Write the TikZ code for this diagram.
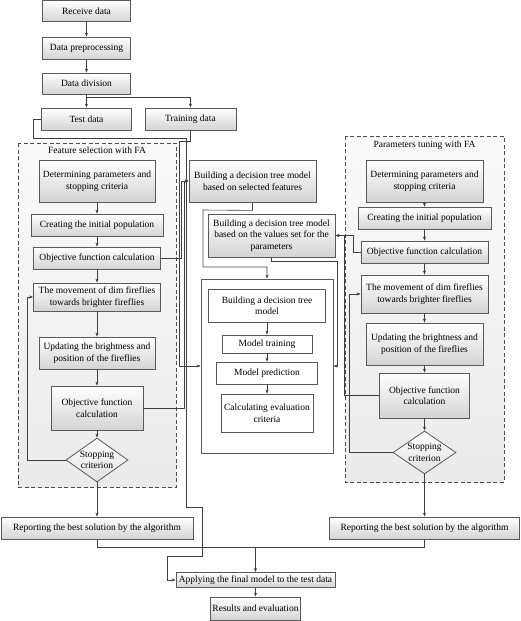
\documentclass[tikz,border=0pt]{standalone}
\usepackage{fontspec}
\setmainfont{Liberation Serif}
\usetikzlibrary{shapes.geometric,arrows.meta}

\begin{document}
\begin{tikzpicture}[x=1pt,y=-1pt,
	box/.style={draw=black!65,line width=0.8pt,top color=white,bottom color=black!17,align=center,inner sep=1pt,font=\fontsize{9.5}{11.5}\selectfont},
	plainbox/.style={draw=black!65,line width=0.8pt,fill=white,align=center,inner sep=1pt,font=\fontsize{9.5}{11.5}\selectfont},
	stopbox/.style={diamond,aspect=1.4,inner sep=0pt,draw=black!65,line width=0.8pt,top color=white,bottom color=black!12,align=center,font=\fontsize{9.5}{11.5}\selectfont},
	groupbox/.style={draw=black!70,line width=0.8pt,dash pattern=on 4pt off 2.5pt,top color=black!2,bottom color=black!8},
	grouptitle/.style={inner sep=1pt,font=\fontsize{9.5}{11.5}\selectfont},
	link/.style={draw=black!75,line width=0.6pt,-{Stealth[length=4pt,width=3pt]}},
	wire/.style={draw=black!75,line width=0.6pt}]
	\useasboundingbox (0,0) rectangle (520,621);
	% dashed groups
	\draw[groupbox] (18,143) rectangle (176,487);
	\draw[groupbox] (345,136) rectangle (504,482);
	\node[grouptitle] (fstitle) at (97,150) {Feature selection with FA};
	\node[grouptitle] (pttitle) at (424.5,145) {Parameters tuning with FA};
	% data preparation
	\node[box,minimum width=88pt,minimum height=21pt] (receive) at (86.5,11) {Receive data};
	\node[box,minimum width=88pt,minimum height=22pt] (prep) at (86.5,48) {Data preprocessing};
	\node[box,minimum width=88pt,minimum height=21pt] (division) at (86.5,83.5) {Data division};
	\node[box,minimum width=90pt,minimum height=22pt] (test) at (86.5,119) {Test data};
	\node[box,minimum width=91pt,minimum height=22pt] (training) at (190.5,119) {Training data};
	% feature selection
	\node[box,minimum width=116pt,minimum height=42pt] (fsdet) at (97,181) {Determining parameters and\\stopping criteria};
	\node[box,minimum width=132pt,minimum height=22pt] (fsinit) at (97,225) {Creating the initial population};
	\node[box,minimum width=127pt,minimum height=22pt] (fsobj) at (97,258) {Objective function calculation};
	\node[box,minimum width=127pt,minimum height=28pt] (fsmove) at (97,297) {The movement of dim fireflies\\towards brighter fireflies};
	\node[box,minimum width=116pt,minimum height=32pt] (fsupd) at (97,353) {Updating the brightness and\\position of the fireflies};
	\node[box,minimum width=92pt,minimum height=44pt] (fsobjb) at (97,408) {Objective function\\calculation};
	\node[stopbox,minimum width=62pt,minimum height=44pt] (fsstop) at (97,460) {Stopping\\criterion};
	% parameters tuning
	\node[box,minimum width=117pt,minimum height=42pt] (ptdet) at (424.5,181) {Determining parameters and\\stopping criteria};
	\node[box,minimum width=133pt,minimum height=22pt] (ptinit) at (424.5,218) {Creating the initial population};
	\node[box,minimum width=127pt,minimum height=22pt] (ptobj) at (424.5,252) {Objective function calculation};
	\node[box,minimum width=127pt,minimum height=38pt] (ptmove) at (424.5,294) {The movement of dim fireflies\\towards brighter fireflies};
	\node[box,minimum width=117pt,minimum height=42pt] (ptupd) at (424.5,344) {Updating the brightness and\\position of the fireflies};
	\node[box,minimum width=90pt,minimum height=45pt] (ptobjb) at (424.5,395.5) {Objective function\\calculation};
	\node[stopbox,minimum width=63pt,minimum height=43pt] (ptstop) at (424.5,452.5) {Stopping\\criterion};
	% decision tree
	\node[box,minimum width=127pt,minimum height=42pt] (dtsel) at (252.5,181) {Building a decision tree model\\based on selected features};
	\node[box,minimum width=127pt,minimum height=43pt] (dtpar) at (271.5,235.5) {Building a decision tree model\\based on the values set for the\\parameters};
	\node[plainbox,minimum width=132pt,minimum height=174pt] (evalbox) at (267,366) {};
	\node[plainbox,minimum width=117pt,minimum height=33pt] (dtbuild) at (267,305.5) {Building a decision tree\\model};
	\node[plainbox,minimum width=90pt,minimum height=18pt] (train) at (267,344) {Model training};
	\node[plainbox,minimum width=101pt,minimum height=22pt] (predict) at (267,373) {Model prediction};
	\node[plainbox,minimum width=92pt,minimum height=38pt] (criteria) at (267,413) {Calculating evaluation\\criteria};
	% final steps
	\node[box,minimum width=192pt,minimum height=22pt] (rep1) at (97,528) {Reporting the best solution by the algorithm};
	\node[box,minimum width=190pt,minimum height=22pt] (rep2) at (424.5,528) {Reporting the best solution by the algorithm};
	\node[box,minimum width=159pt,minimum height=15pt] (apply) at (255.5,580) {Applying the final model to the test data};
	\node[box,minimum width=90pt,minimum height=23pt] (results) at (255.5,608.5) {Results and evaluation};
	\coordinate (split) at (86.5,97);
	\coordinate (merge) at (255.5,547);
	% connectors
	\draw[link] (receive) -- (prep);
	\draw[link] (prep) -- (division);
	\draw[link] (division) -- (test);
	\draw[link] (split) -| (training);
	\draw[link] (test.west) -- (33,119) -- (33,138) -- (186,138) -- (186,507) -- (202,507) -- (202,556) -- (167,556) |- (apply.west);
	\draw[link] (training.south) -- (190.5,141) -- (179,141) |- (evalbox.west);
	\draw[link] (fsobj.east) -- (181,258) |- (dtsel.west);
	\draw[link] (fsobjb.east) -- (184,408) |- (dtsel.west);
	\draw[link] (dtsel.south) -- ++(0,8) -- (203,210) -- (203,267) -| (evalbox.north);
	\draw[link] (dtpar.south) -- ++(0,4) -| (337,366) -- (evalbox.east);
	\draw[link] (ptobj.west) -- (353,252) |- (dtpar.east);
	\draw[link] (ptobjb.west) -- (344,395.5) |- (dtpar.east);
	\draw[link] (fsdet) -- (fsinit);
	\draw[link] (fsinit) -- (fsobj);
	\draw[link] (fsobj) -- (fsmove);
	\draw[link] (fsmove) -- (fsupd);
	\draw[link] (fsupd) -- (fsobjb);
	\draw[link] (fsobjb) -- (fsstop);
	\draw[link] (fsstop.west) -- (27,460) |- (fsmove.west);
	\draw[link] (fsstop) -- (rep1);
	\draw[link] (ptdet) -- (ptinit);
	\draw[link] (ptinit) -- (ptobj);
	\draw[link] (ptobj) -- (ptmove);
	\draw[link] (ptmove) -- (ptupd);
	\draw[link] (ptupd) -- (ptobjb);
	\draw[link] (ptobjb) -- (ptstop);
	\draw[link] (ptstop.west) -- (349,452.5) |- (ptmove.west);
	\draw[link] (ptstop) -- (rep2);
	\draw[link] (dtbuild) -- (train);
	\draw[link] (train) -- (predict);
	\draw[link] (predict) -- (criteria);
	\draw[wire] (rep1.south) -- ++(0,8) -| (rep2.south);
	\draw[link] (merge) -- (apply);
	\draw[link] (apply) -- (results);
\end{tikzpicture}
\end{document}
